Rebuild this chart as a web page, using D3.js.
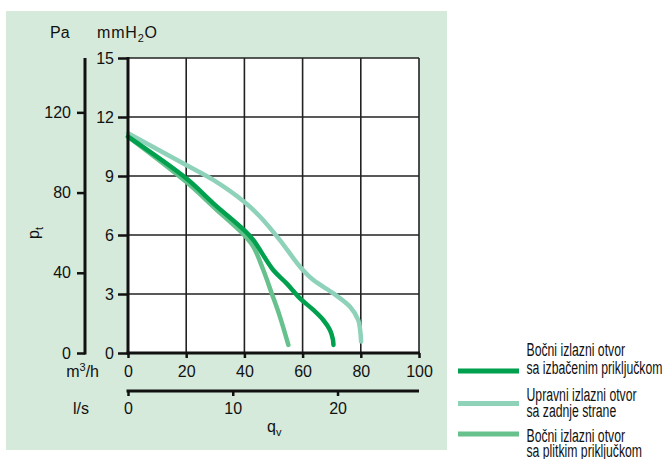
<!DOCTYPE html>
<html><head><meta charset="utf-8">
<script src="https://cdn.jsdelivr.net/npm/d3@7"></script>
<style>
html,body{margin:0;padding:0;background:#fff;}
svg{display:block;}
text{font-family:"Liberation Sans",Arial,sans-serif;fill:#111;}
</style></head>
<body>
<script>
// ---- data ----
const xTicks = [0, 20, 40, 60, 80, 100];           // m3/h
const yTicks = [0, 3, 6, 9, 12, 15];               // mmH2O
const paTicks = [0, 40, 80, 120];                  // Pa
const lsTicks = [0, 10, 20];                       // l/s
const seriesNames = [
  ["Bočni izlazni otvor", "sa izbačenim priključkom"],
  ["Upravni izlazni otvor", "sa zadnje strane"],
  ["Bočni izlazni otvor", "sa plitkim priključkom"]
];
const seriesColors = ["#00a04e", "#8ed2b9", "#66c18d"];
// x: m3/h, y: mmH2O
const dark = [[0,11.0],[20,8.88],[29.3,7.61],[39.9,6.25],[43.1,5.74],[49.9,4.22],[54.5,3.54],[59.1,2.78],[63.7,2.19],[67.1,1.68],[69.4,1.17],[70.4,0.7],[70.6,0.41]];
const light = [[0,11.17],[20,9.56],[29.3,8.8],[39.9,7.69],[45.4,6.93],[52.2,5.74],[59.1,4.39],[63.7,3.71],[70.6,3.03],[76.3,2.35],[79.1,1.68],[79.9,1.0],[80.1,0.58]];
const mid = [[0,11.0],[20,8.7],[29.9,7.36],[39.9,6.0],[43.1,5.4],[46.5,4.22],[49.4,3.03],[52.2,1.85],[55.1,0.41]];
const seriesData = [dark, light, mid];

const W = 666, H = 459;
const FS = 16;
const svg = d3.select("body").append("svg").attr("width", W).attr("height", H);

svg.append("rect").attr("x", 6).attr("y", 11).attr("width", 441).attr("height", 439).attr("fill", "#d5eadb");

const x = d3.scaleLinear().domain([0, 100]).range([128, 419]);
const y = d3.scaleLinear().domain([0, 15]).range([353, 58]);
const PA = 9.80665;
const yPa = d3.scaleLinear().domain([0, 15 * PA]).range([353, 58]);
const xLs = d3.scaleLinear().domain([0, 100 / 3.6]).range([128, 419]);

// plot background
svg.append("rect").attr("x", x(0)).attr("y", y(15)).attr("width", x(100) - x(0)).attr("height", y(0) - y(15)).attr("fill", "#fff");

// grid
const g = svg.append("g");
g.selectAll(".vg").data(xTicks.slice(1)).enter().append("line")
  .attr("x1", d => x(d)).attr("x2", d => x(d)).attr("y1", y(15)).attr("y2", y(0))
  .attr("stroke", "#222").attr("stroke-width", 1.6);
g.selectAll(".hg").data(yTicks.slice(1)).enter().append("line")
  .attr("x1", x(0)).attr("x2", x(100)).attr("y1", d => y(d)).attr("y2", d => y(d))
  .attr("stroke", "#222").attr("stroke-width", 1.6);

// curves
const line = d3.line().x(d => x(d[0])).y(d => y(d[1])).curve(d3.curveCatmullRom.alpha(0.5));
[1, 2, 0].forEach(i => {
  svg.append("path").attr("d", line(seriesData[i])).attr("fill", "none")
    .attr("stroke", seriesColors[i]).attr("stroke-width", 4.5).attr("stroke-linecap", "round").attr("stroke-linejoin", "round");
});

// mmH2O axis
const ya = svg.append("g").attr("transform", `translate(${x(0)},0)`)
  .call(d3.axisLeft(y).tickValues(yTicks).tickSize(10).tickPadding(4));
// Pa axis
const pa = svg.append("g").attr("transform", "translate(85,0)")
  .call(d3.axisLeft(yPa).tickValues(paTicks).tickSize(8).tickPadding(6));
// x axis m3/h
const xa = svg.append("g").attr("transform", `translate(0,${y(0)})`)
  .call(d3.axisBottom(x).tickValues(xTicks).tickSize(5).tickPadding(8));
// l/s axis
const la = svg.append("g").attr("transform", "translate(0,391)")
  .call(d3.axisBottom(xLs).tickValues(lsTicks).tickSize(5).tickPadding(7));

[ya, pa, xa, la].forEach(a => {
  a.attr("font-family", null).attr("font-size", null);
  a.select(".domain").remove();
  a.selectAll(".tick line").attr("stroke", "#111").attr("stroke-width", 2.5);
  a.selectAll("text").style("font-size", FS + "px").attr("fill", "#111");
});
// axis lines
svg.append("line").attr("x1", x(0)).attr("x2", x(0)).attr("y1", y(15) - 1).attr("y2", y(0) + 1.5).attr("stroke", "#111").attr("stroke-width", 3);
svg.append("line").attr("x1", x(0) - 1.5).attr("x2", x(100) + 1).attr("y1", y(0)).attr("y2", y(0)).attr("stroke", "#111").attr("stroke-width", 3);
svg.append("line").attr("x1", 85).attr("x2", 85).attr("y1", y(15)).attr("y2", y(0) + 1.5).attr("stroke", "#111").attr("stroke-width", 3);
svg.append("line").attr("x1", x(0) - 1.5).attr("x2", x(100)).attr("y1", 391).attr("y2", 391).attr("stroke", "#111").attr("stroke-width", 3);

// axis labels
svg.append("text").attr("x", 50).attr("y", 38).style("font-size", FS + "px").text("Pa");
const mm = svg.append("text").attr("x", 97).attr("y", 38).style("font-size", FS + "px").style("letter-spacing", "0.8px");
mm.append("tspan").text("mmH");
mm.append("tspan").attr("dy", 4).style("font-size", "11px").text("2");
mm.append("tspan").attr("dy", -4).text("O");
const mh = svg.append("text").attr("x", 99).attr("y", 377).attr("text-anchor", "end").style("font-size", FS + "px");
mh.append("tspan").text("m");
mh.append("tspan").attr("dy", -6).style("font-size", "11px").text("3");
mh.append("tspan").attr("dy", 6).text("/h");
svg.append("text").attr("x", 89).attr("y", 414).attr("text-anchor", "end").style("font-size", FS + "px").text("l/s");
const qv = svg.append("text").attr("x", 267).attr("y", 432).style("font-size", FS + "px");
qv.append("tspan").text("q");
qv.append("tspan").attr("dy", 4).style("font-size", "11px").text("v");
const pt = svg.append("text").attr("transform", "translate(39,239) rotate(-90)").style("font-size", FS + "px");
pt.append("tspan").text("p");
pt.append("tspan").attr("dy", 4).style("font-size", "11px").text("t");

// legend
const legLineY = [371, 403.5, 434];
const legTextY = [[356, 374], [401, 417], [441.5, 457]];
seriesNames.forEach((nm, i) => {
  svg.append("line").attr("x1", 458).attr("x2", 519).attr("y1", legLineY[i]).attr("y2", legLineY[i])
    .attr("stroke", seriesColors[i]).attr("stroke-width", 5);
  nm.forEach((t, j) => {
    svg.append("text").attr("transform", `translate(526.5,${legTextY[i][j]}) scale(0.68,1)`)
      .style("font-size", "18px").text(t);
  });
});
</script>
</body></html>
